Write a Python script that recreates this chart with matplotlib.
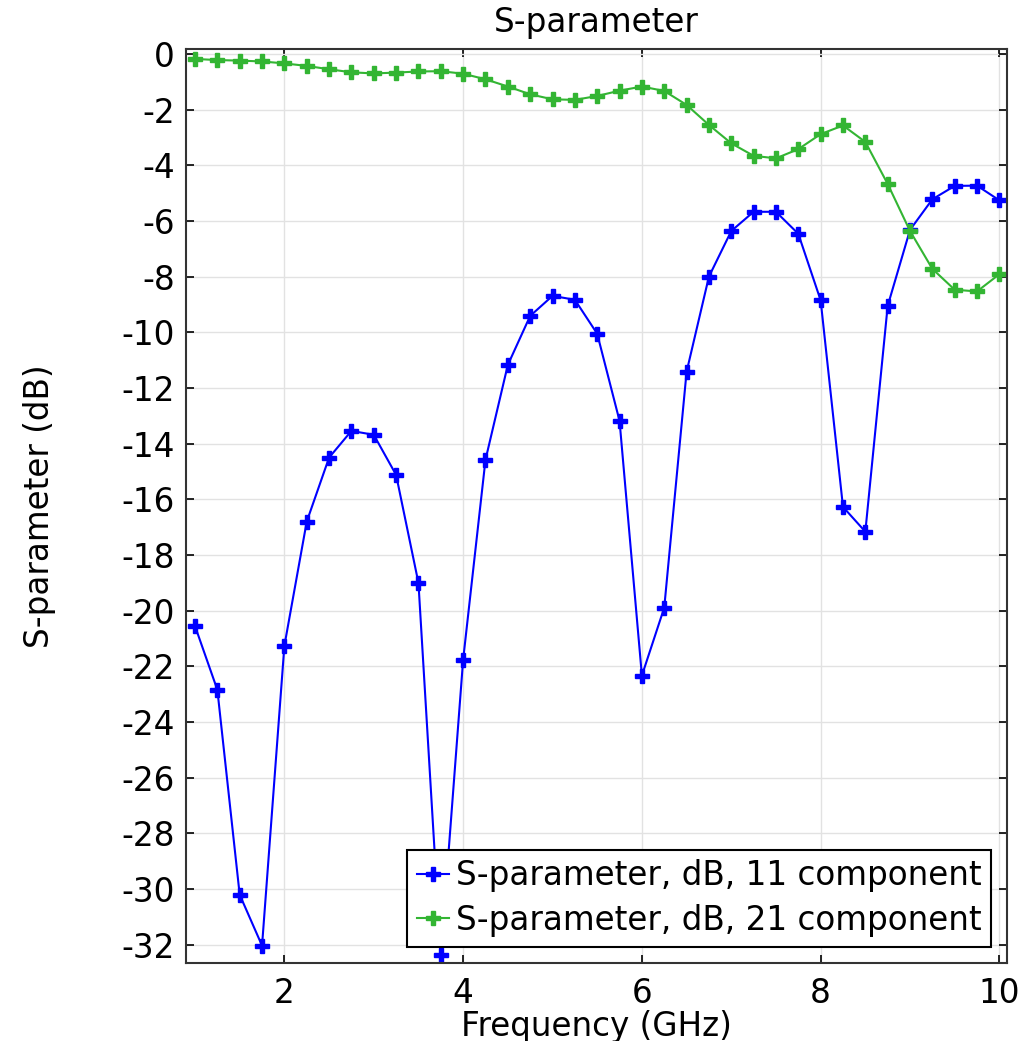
import numpy as np
import matplotlib
matplotlib.use("Agg")
import matplotlib.pyplot as plt

# frequency sweep (GHz)
freq = np.arange(1.0, 10.01, 0.25)

# S11 in dB
s11_db = [-20.55, -22.84, -30.2, -32.03, -21.26, -16.8, -14.5, -13.54, -13.68,
          -15.12, -19.0, -32.35, -21.76, -14.58, -11.17, -9.41, -8.69, -8.83,
          -10.05, -13.18, -22.33, -19.89, -11.42, -8.0, -6.36, -5.67, -5.67,
          -6.46, -8.85, -16.27, -17.16, -9.05, -6.32, -5.22, -4.74, -4.73, -5.26]

# S21 in dB
s21_db = [-0.18, -0.22, -0.24, -0.27, -0.34, -0.43, -0.55, -0.66, -0.70,
          -0.67, -0.63, -0.62, -0.71, -0.91, -1.17, -1.45, -1.63, -1.65,
          -1.51, -1.32, -1.17, -1.33, -1.83, -2.55, -3.21, -3.66, -3.75,
          -3.42, -2.88, -2.57, -3.16, -4.67, -6.36, -7.72, -8.47, -8.53, -7.91]

labels = ["S-parameter, dB, 11 component", "S-parameter, dB, 21 component"]
yticks = np.arange(0, -33, -2)
xticks = [2, 4, 6, 8, 10]

fs = 23.5
fig = plt.figure(figsize=(10.28, 10.41), dpi=100)
ax = fig.add_axes([0.181, 0.075, 0.799, 0.878])

ax.plot(freq, s11_db, color="#0000ff", lw=1.5, marker="P", ms=10, label=labels[0])
ax.plot(freq, s21_db, color="#33b533", lw=1.5, marker="P", ms=10, label=labels[1])

ax.set_xlim(0.9, 10.09)
ax.set_ylim(-32.65, 0.18)
ax.set_xticks(xticks)
ax.set_yticks(yticks)
ax.set_yticklabels([str(v) for v in yticks])
ax.grid(True, color="#e2e2e2", lw=1.0)
ax.set_axisbelow(True)
ax.tick_params(direction="in", top=True, right=True, length=6, width=1.2,
               labelsize=fs, pad=8)
ax.tick_params(axis="x", pad=10)
for s in ax.spines.values():
    s.set_linewidth(1.5)
    s.set_color("#333333")

ax.set_title("S-parameter", fontsize=fs, pad=12)
ax.set_xlabel("Frequency (GHz)", fontsize=fs, labelpad=0)
ax.set_ylabel("S-parameter (dB)", fontsize=fs, labelpad=47)

leg = ax.legend(loc="lower right", fontsize=fs, fancybox=False, framealpha=1,
                edgecolor="black", handlelength=1.0, handletextpad=0.2,
                borderpad=0.3, labelspacing=0.35, borderaxespad=0.5)
leg.get_frame().set_linewidth(1.5)

fig.savefig("out.png", dpi=100)
